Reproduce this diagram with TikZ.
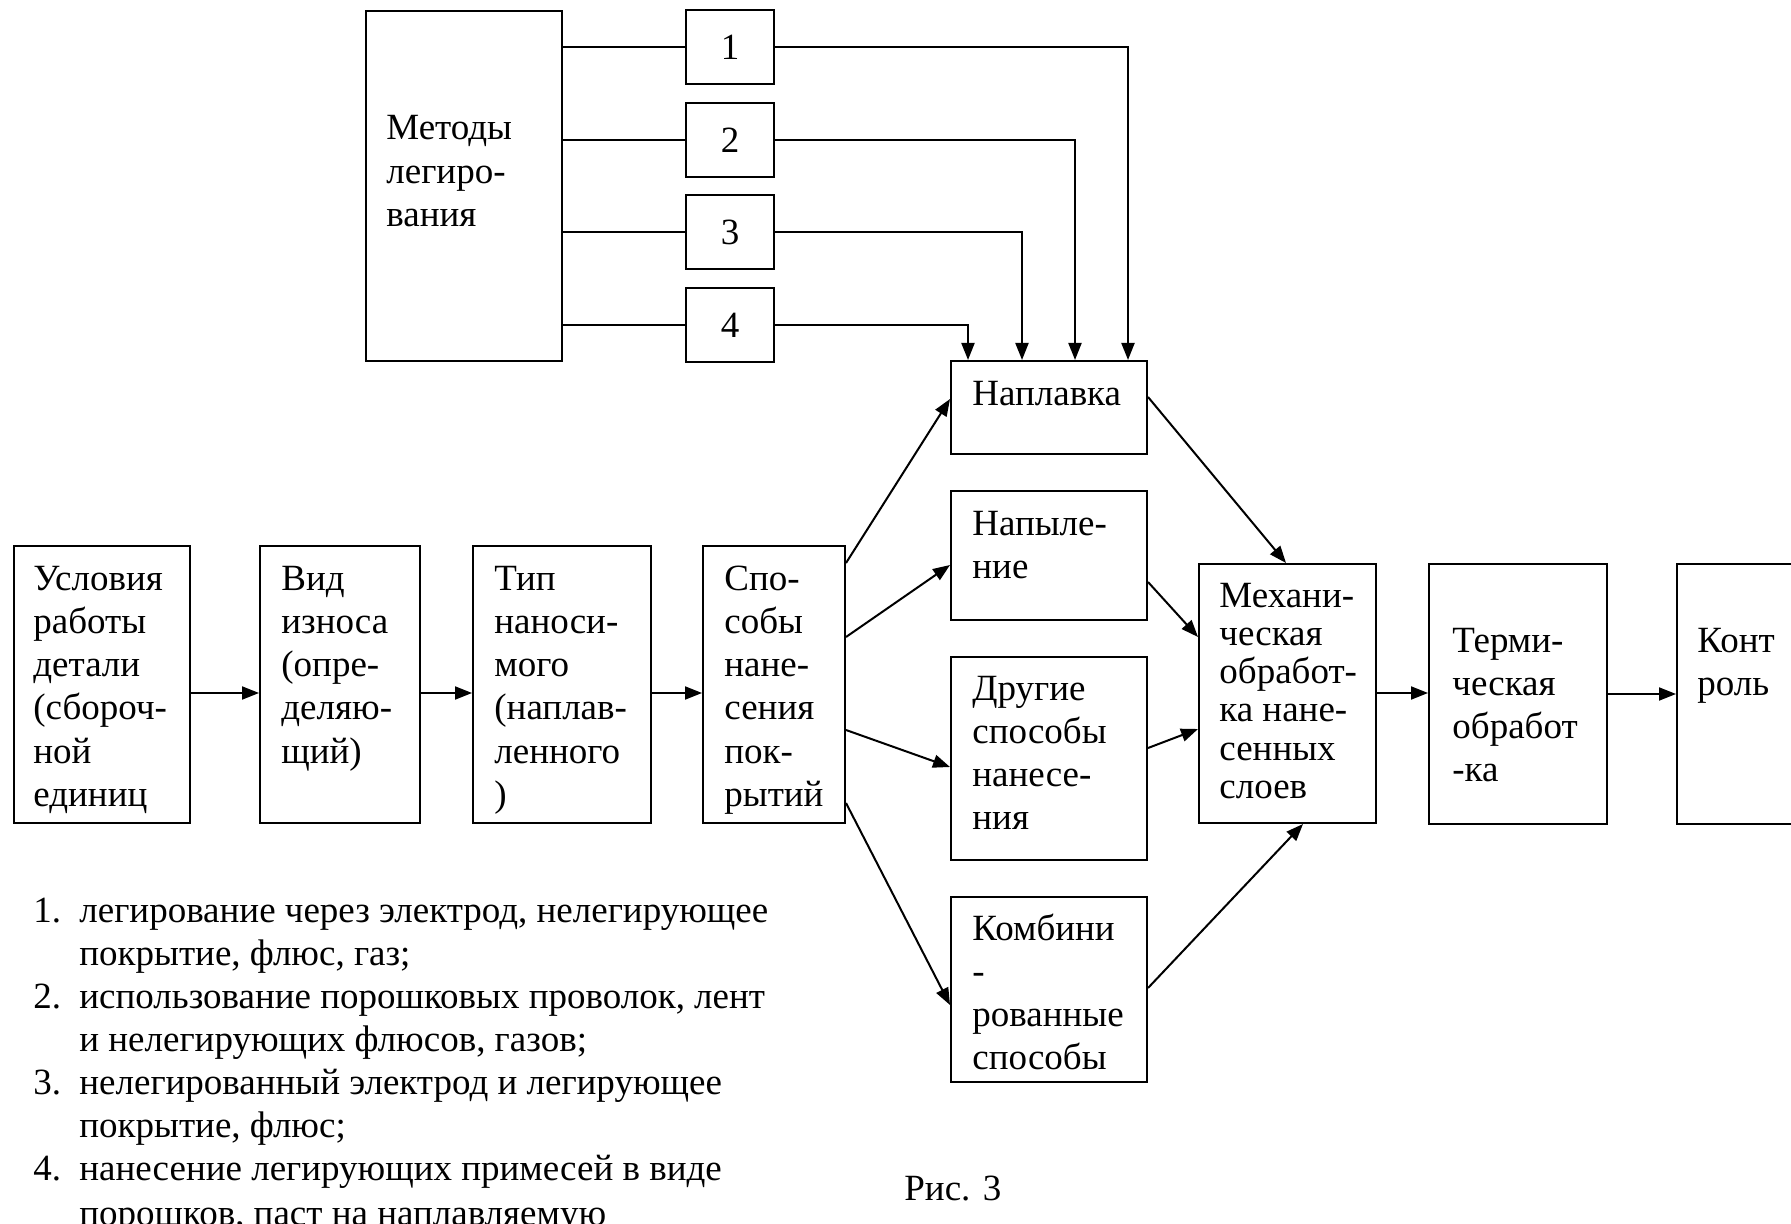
\documentclass[tikz,border=0pt]{standalone}
\usepackage{fontspec}
\setmainfont{Liberation Serif}
\usetikzlibrary{arrows.meta}
\newcommand\fsz{\fontsize{18.5pt}{21.65pt}\selectfont}
\newcommand\fszm{\fontsize{18.5pt}{19.15pt}\selectfont}
\begin{document}
\begin{tikzpicture}[x=0.5pt,y=-0.5pt,
  bx/.style 2 args={draw, line width=1pt, inner sep=0pt, anchor=north west,
    minimum width=#1*0.5pt, minimum height=#2*0.5pt, font=\fsz},
  txt/.style={anchor=base west, align=left, inner sep=0pt, font=\fsz},
  ln/.style={line width=1pt},
  arr/.style={line width=1pt, -{Triangle[length=8.5pt,width=6.5pt]}}]
\useasboundingbox (0,0) rectangle (1791,1224);

% boxes
\node[bx={176}{277}] (u) at (13,545) {};
\node[bx={160}{277}] (v) at (259,545) {};
\node[bx={178}{277}] (t) at (472,545) {};
\node[bx={142}{277}] (s) at (702,545) {};
\node[bx={196}{350}] (mt) at (365,10) {};
\node[bx={88}{74}] (n1) at (685,9) {1};
\node[bx={88}{74}] (n2) at (685,102) {2};
\node[bx={88}{74}] (n3) at (685,194) {3};
\node[bx={88}{74}] (n4) at (685,287) {4};
\node[bx={196}{93}] (np) at (950,360) {};
\node[bx={196}{129}] (ny) at (950,490) {};
\node[bx={196}{203}] (dr) at (950,656) {};
\node[bx={196}{185}] (kb) at (950,896) {};
\node[bx={177}{259}] (mh) at (1198,563) {};
\node[bx={178}{260}] (tr) at (1428,563) {};
\node[bx={178}{260}] (kn) at (1676,563) {};

% box texts (anchored at the baseline of the last line)
\node[txt] (ut) at (33,806.5) {Условия\\работы\\детали\\(сбороч-\\ной\\единиц};
\node[txt] (vt) at (281,763.2) {Вид\\износа\\(опре-\\деляю-\\щий)};
\node[txt] (tt) at (494,806.5) {Тип\\наноси-\\мого\\(наплав-\\ленного\\)};
\node[txt] (st) at (724,806.5) {Спо-\\собы\\нане-\\сения\\пок-\\рытий};
\node[txt] (mtt) at (386,226.6) {Методы\\легиро-\\вания};
\node[txt] (npt) at (972,406) {Наплавка};
\node[txt] (nyt) at (972,578.3) {Напыле-\\ние};
\node[txt] (drt) at (972,829.9) {Другие\\способы\\нанесе-\\ния};
\node[txt] (kbt) at (972,1069.9) {Комбини\\-\\рованные\\способы};
\node[txt, font=\fszm] (mht) at (1219,798.5) {Механи-\\ческая\\обработ-\\ка нане-\\сенных\\слоев};
\node[txt] (trt) at (1452,781.9) {Терми-\\ческая\\обработ\\-ка};
\node[txt] (knt) at (1697,695.3) {Конт\\роль};

% main row
\draw[arr] (u.east |- 0,693) -- (v.west |- 0,693);
\draw[arr] (v.east |- 0,693) -- (t.west |- 0,693);
\draw[arr] (t.east |- 0,693) -- (s.west |- 0,693);

% fan out
\draw[arr] (s.east |- 0,563) -- (np.west |- 0,399);
\draw[arr] (s.east |- 0,637) -- (ny.west |- 0,565);
\draw[arr] (s.east |- 0,730) -- (dr.west |- 0,767);
\draw[arr] (s.east |- 0,803) -- (kb.west |- 0,1005);

% fan in
\draw[arr] (np.east |- 0,397) -- (mh.north -| 1286,0);
\draw[arr] (ny.east |- 0,582) -- (mh.west |- 0,637);
\draw[arr] (dr.east |- 0,748) -- (mh.west |- 0,729);
\draw[arr] (kb.east |- 0,988) -- (mh.south -| 1303,0);
\draw[arr] (mh.east |- 0,693) -- (tr.west |- 0,693);
\draw[arr] (tr.east |- 0,694) -- (kn.west |- 0,694);

% alloying methods
\draw[ln] (mt.east |- n1.west) -- (n1.west);
\draw[ln] (mt.east |- n2.west) -- (n2.west);
\draw[ln] (mt.east |- n3.west) -- (n3.west);
\draw[ln] (mt.east |- n4.west) -- (n4.west);
\draw[arr] (n1.east) -| (np.north -| 1128,0);
\draw[arr] (n2.east) -| (np.north -| 1075,0);
\draw[arr] (n3.east) -| (np.north -| 1022,0);
\draw[arr] (n4.east) -| (np.north -| 968,0);

% legend list
\node[txt] (l1n) at (33,922) {1.};
\node[txt] (l1a) at (79,922) {легирование через электрод, нелегирующее};
\node[txt] (l1b) at (79,965) {покрытие, флюс, газ;};
\node[txt] (l2n) at (33,1008) {2.};
\node[txt] (l2a) at (79,1008) {использование порошковых проволок, лент};
\node[txt] (l2b) at (79,1051) {и нелегирующих флюсов, газов;};
\node[txt] (l3n) at (33,1094) {3.};
\node[txt] (l3a) at (79,1094) {нелегированный электрод и легирующее};
\node[txt] (l3b) at (79,1137) {покрытие, флюс;};
\node[txt] (l4n) at (33,1180) {4.};
\node[txt] (l4a) at (79,1180) {нанесение легирующих примесей в виде};
\node[txt] (l4b) at (79,1225) {порошков, паст на наплавляемую};

\node[txt] (cap) at (904,1200) {Рис. 3};
\end{tikzpicture}
\end{document}
